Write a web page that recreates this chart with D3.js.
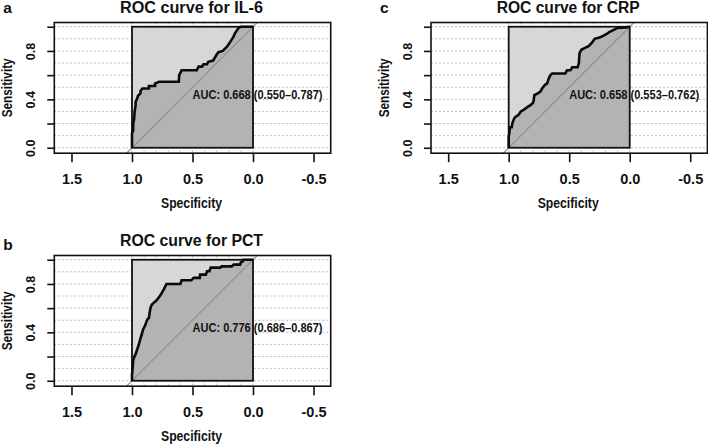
<!DOCTYPE html>
<html><head><meta charset="utf-8">
<script src="https://cdn.jsdelivr.net/npm/d3@7"></script>
<style>
body{margin:0;background:#fff}
text{font-family:"Liberation Sans",Arial,sans-serif;font-weight:bold;fill:#111}
</style>
</head><body>
<svg id="chart" width="708" height="445"></svg>
<script>
// ---------- data ----------
const panelLetters = ["a", "b", "c"];
const markers = ["IL-6", "PCT", "CRP"];
const aucLabels = ["AUC: 0.668 (0.550\u20130.787)", "AUC: 0.776 (0.686\u20130.867)", "AUC: 0.658 (0.553\u20130.762)"];
const xTickValues = [1.5, 1.0, 0.5, 0.0, -0.5];
const yTickValues = [0, 0.2, 0.4, 0.6, 0.8, 1.0];
const yTickLabels = ["0.0", "", "0.4", "", "0.8", ""];
const gridValues = [0, 0.1, 0.2, 0.3, 0.4, 0.5, 0.6, 0.7, 0.8, 0.9, 1.0];

// ROC vertices [specificity, sensitivity]
const il6Curve = [[1,0],[1,0.12],[0.99,0.14],[0.99,0.2],[0.983,0.23],[0.978,0.3],[0.97,0.35],[0.97,0.38],[0.96,0.4],[0.95,0.43],[0.93,0.45],[0.93,0.47],[0.914,0.49],[0.86,0.49],[0.86,0.51],[0.81,0.51],[0.81,0.53],[0.776,0.545],[0.613,0.545],[0.61,0.6],[0.59,0.64],[0.465,0.64],[0.45,0.67],[0.42,0.67],[0.41,0.69],[0.38,0.69],[0.37,0.71],[0.33,0.72],[0.30,0.77],[0.285,0.79],[0.25,0.80],[0.215,0.835],[0.188,0.875],[0.16,0.92],[0.15,0.945],[0.133,0.97],[0.12,0.99],[0.1,1.0],[0,1]];
const pctCurve = [[1,0],[1,0.05],[0.995,0.1],[0.99,0.17],[0.98,0.2],[0.97,0.22],[0.96,0.25],[0.95,0.28],[0.94,0.31],[0.93,0.35],[0.92,0.38],[0.91,0.42],[0.90,0.44],[0.89,0.46],[0.88,0.49],[0.87,0.51],[0.86,0.52],[0.853,0.57],[0.845,0.61],[0.835,0.63],[0.82,0.645],[0.80,0.66],[0.785,0.68],[0.77,0.70],[0.757,0.72],[0.74,0.75],[0.73,0.77],[0.715,0.80],[0.60,0.80],[0.59,0.83],[0.51,0.83],[0.49,0.85],[0.44,0.85],[0.437,0.877],[0.39,0.877],[0.38,0.905],[0.36,0.905],[0.35,0.935],[0.27,0.935],[0.26,0.945],[0.175,0.945],[0.16,0.96],[0.106,0.96],[0.10,0.98],[0.085,0.985],[0.08,1],[0,1]];
const crpCurve = [[1,0],[1,0.09],[0.995,0.12],[0.99,0.17],[0.975,0.17],[0.97,0.2],[0.96,0.23],[0.95,0.25],[0.937,0.26],[0.92,0.27],[0.90,0.30],[0.88,0.31],[0.862,0.325],[0.84,0.34],[0.82,0.352],[0.80,0.37],[0.793,0.394],[0.788,0.435],[0.76,0.45],[0.738,0.464],[0.724,0.49],[0.70,0.52],[0.683,0.53],[0.669,0.573],[0.655,0.6],[0.64,0.614],[0.532,0.614],[0.518,0.64],[0.49,0.64],[0.475,0.665],[0.43,0.665],[0.42,0.70],[0.415,0.78],[0.40,0.81],[0.37,0.825],[0.34,0.84],[0.31,0.87],[0.29,0.90],[0.25,0.91],[0.22,0.925],[0.19,0.94],[0.17,0.955],[0.14,0.97],[0.10,0.99],[0.03,0.995],[0,1]];
const curves = [il6Curve, pctCurve, crpCurve];

// ---------- layout ----------
const svg = d3.select("#chart");
const panelPos = [{left: 54.3, top: 22.5}, {left: 54.3, top: 255.5}, {left: 431, top: 22.5}];
const W = 276.4, H = 130.7;
const xDomain = [1.642, -0.642], yDomain = [-0.045, 1.035];

function txt(g, str, x, y, size, opts = {}) {
  const t = g.append("text").attr("x", x).attr("y", y).attr("font-size", size).text(str);
  if (opts.anchor) t.attr("text-anchor", opts.anchor);
  if (opts.len) t.attr("textLength", opts.len).attr("lengthAdjust", "spacingAndGlyphs");
  if (opts.rot) t.attr("transform", `rotate(-90,${x},${y})`);
  return t;
}

panelLetters.forEach((letter, i) => {
  const p = panelPos[i];
  const x = d3.scaleLinear().domain(xDomain).range([p.left, p.left + W]);
  const y = d3.scaleLinear().domain(yDomain).range([p.top + H, p.top]);
  const g = svg.append("g");
  const clipId = "clip" + i;
  svg.append("clipPath").attr("id", clipId).append("rect")
    .attr("x", p.left).attr("y", p.top).attr("width", W).attr("height", H);
  const plot = g.append("g").attr("clip-path", `url(#${clipId})`);

  // grid
  plot.selectAll(".gh").data(gridValues).join("line")
    .attr("x1", p.left).attr("x2", p.left + W)
    .attr("y1", d => y(d)).attr("y2", d => y(d))
    .attr("stroke", "#bdbdbd").attr("stroke-width", 1).attr("stroke-dasharray", "2,2");
  plot.selectAll(".gv").data(gridValues).join("line")
    .attr("y1", p.top).attr("y2", p.top + H)
    .attr("x1", d => x(d)).attr("x2", d => x(d))
    .attr("stroke", "#bdbdbd").attr("stroke-width", 1).attr("stroke-dasharray", "2,2");

  // max auc polygon
  plot.append("rect").attr("x", x(1)).attr("y", y(1))
    .attr("width", x(0) - x(1)).attr("height", y(0) - y(1))
    .attr("fill", "#d7d7d7");
  // auc polygon
  const poly = curves[i].concat([[0, 0]]);
  plot.append("path").datum(poly)
    .attr("d", d3.line().x(d => x(d[0])).y(d => y(d[1])).curve(d3.curveLinearClosed))
    .attr("fill", "#b3b3b3");
  // diagonal
  plot.append("line").attr("x1", x(1.8)).attr("y1", y(-0.8)).attr("x2", x(-0.8)).attr("y2", y(1.8))
    .attr("stroke", "#8c8c8c").attr("stroke-width", 1.1);
  // inner box border
  plot.append("rect").attr("x", x(1)).attr("y", y(1))
    .attr("width", x(0) - x(1)).attr("height", y(0) - y(1))
    .attr("fill", "none").attr("stroke", "#111").attr("stroke-width", 1.8);
  // ROC curve
  plot.append("path").datum(curves[i])
    .attr("d", d3.line().x(d => x(d[0])).y(d => y(d[1])))
    .attr("fill", "none").attr("stroke", "#0a0a0a").attr("stroke-width", 2.6)
    .attr("stroke-linejoin", "miter");

  // outer frame
  g.append("rect").attr("x", p.left).attr("y", p.top).attr("width", W).attr("height", H)
    .attr("fill", "none").attr("stroke", "#111").attr("stroke-width", 1.6);

  // axes
  const xa = g.append("g").attr("transform", `translate(0,${p.top + H})`)
    .call(d3.axisBottom(x).tickValues(xTickValues).tickSize(9).tickFormat(d => d.toFixed(1)));
  xa.select(".domain").remove();
  xa.selectAll(".tick line").attr("stroke", "#111").attr("stroke-width", 1.6);
  xa.selectAll(".tick text").attr("font-size", 14.5).attr("fill", "#111")
    .attr("font-family", "Liberation Sans, Arial, sans-serif").attr("font-weight", "bold")
    .attr("y", 0).attr("dy", 0).attr("transform", "translate(0,30.8)");

  const ya = g.append("g").attr("transform", `translate(${p.left},0)`)
    .call(d3.axisLeft(y).tickValues(yTickValues).tickSize(7).tickFormat((d, k) => yTickLabels[k]));
  ya.select(".domain").remove();
  ya.selectAll(".tick line").attr("stroke", "#111").attr("stroke-width", 1.6);
  ya.selectAll(".tick text").attr("font-size", 12.5).attr("fill", "#111")
    .attr("font-family", "Liberation Sans, Arial, sans-serif").attr("font-weight", "bold")
    .attr("x", 0).attr("dy", 0).attr("text-anchor", "middle")
    .attr("transform", "translate(-19,0) rotate(-90)");

  const cx = p.left + W / 2;
  txt(g, "ROC curve for " + markers[i], cx - 1, p.top - 9.8, 16, {anchor: "middle", len: 143});
  txt(g, letter, p.left - 51, p.top - 9.5 + (letter === "b" ? 3.5 : 0), 15.5);
  txt(g, "Specificity", cx - 1, p.top + H + 54.5, 14, {anchor: "middle", len: 61});
  txt(g, "Sensitivity", p.left - 42, p.top + H / 2, 14, {anchor: "middle", len: 59, rot: true});
  txt(g, aucLabels[i], x(0.5), y(0.44) + 4.5, 12.5, {len: 130});
});
</script>
</body></html>
